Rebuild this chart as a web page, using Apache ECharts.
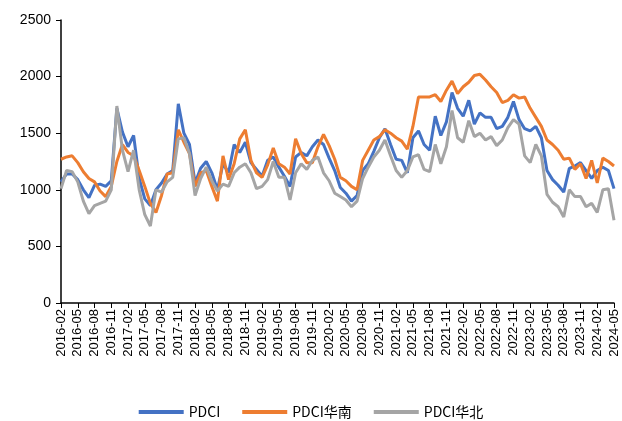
<!DOCTYPE html>
<html><head><meta charset="utf-8">
<script src="https://cdn.jsdelivr.net/npm/echarts@6/dist/echarts.min.js"></script>
<style>html,body{margin:0;padding:0;background:#fff}#c{width:622px;height:421px}</style>
</head><body><div id="c"></div>
<script>
// Monthly categories 2016-02 .. 2024-05
const months = [];
for (let y = 2016, m = 2; y < 2024 || (y === 2024 && m <= 5); ) {
  months.push(y + '-' + String(m).padStart(2, '0'));
  m++; if (m > 12) { m = 1; y++; }
}
const yTicks = [0, 500, 1000, 1500, 2000, 2500];
const seriesNames = ['PDCI', 'PDCI华南', 'PDCI华北'];

const pdci = [
1070,1140,1140,1090,1000,930,1040,1050,1030,1080,
1720,1510,1380,1480,1100,920,860,1000,1060,1140,
1170,1760,1500,1400,1060,1190,1250,1150,1000,1230,
1150,1400,1330,1420,1240,1180,1120,1260,1290,1200,
1120,1030,1290,1330,1300,1380,1440,1400,1280,1170,
1020,970,900,950,1170,1230,1340,1460,1540,1400,
1270,1260,1150,1460,1520,1400,1350,1650,1480,1600,
1860,1720,1650,1790,1580,1680,1640,1640,1540,1560,
1640,1780,1620,1540,1520,1560,1460,1170,1090,1040,
980,1190,1210,1240,1170,1100,1170,1200,1170,1010
];
const pdciSouth = [
1270,1290,1300,1240,1160,1100,1070,990,940,1030,
1250,1400,1330,1300,1170,1030,880,800,950,1140,
1150,1530,1420,1320,1030,1150,1170,1030,900,1300,
1090,1230,1450,1530,1260,1150,1110,1220,1370,1230,
1200,1140,1450,1320,1240,1240,1380,1490,1390,1270,
1110,1080,1030,1000,1260,1350,1440,1470,1530,1500,
1460,1430,1360,1560,1820,1820,1820,1840,1780,1880,
1960,1850,1910,1950,2010,2020,1970,1910,1860,1770,
1790,1840,1810,1820,1720,1640,1560,1440,1400,1350,
1270,1280,1180,1230,1100,1260,1060,1280,1250,1210
];
const pdciNorth = [
1010,1170,1160,1070,900,790,860,880,900,1000,
1740,1350,1160,1350,1000,780,680,1000,980,1070,
1110,1450,1460,1320,950,1100,1200,1080,990,1050,
1030,1150,1200,1230,1150,1010,1030,1090,1250,1110,
1110,910,1150,1230,1180,1260,1290,1150,1080,970,
940,910,850,900,1100,1200,1290,1350,1440,1300,
1170,1110,1170,1290,1310,1180,1160,1400,1230,1380,
1700,1460,1420,1610,1470,1500,1440,1470,1390,1440,
1550,1620,1580,1300,1240,1400,1300,960,890,850,
760,1000,940,940,850,880,800,1000,1010,730
];
const colors = ['#4472C4', '#ED7D31', '#A5A5A5'];

const chart = echarts.init(document.getElementById('c'), null, {renderer: 'canvas'});
chart.setOption({
  animation: false,
  color: colors,
  grid: {left: 61, right: 8, top: 20, bottom: 118, containLabel: false},
  legend: {
    top: 400, left: 'center', itemWidth: 45, itemHeight: 4, itemGap: 22,
    icon: 'rect',
    textStyle: {fontFamily: 'Noto Sans CJK SC', fontSize: 14, color: '#000'},
    data: seriesNames
  },
  xAxis: {
    type: 'category', data: months, boundaryGap: false,
    axisLine: {lineStyle: {color: '#000', width: 1.5}},
    axisTick: {interval: 2, length: 5, lineStyle: {color: '#000'}},
    axisLabel: {interval: 2, rotate: 90, margin: 6, fontSize: 13, color: '#000', fontFamily: 'Liberation Sans'}
  },
  yAxis: {
    type: 'value', min: yTicks[0], max: yTicks[yTicks.length - 1], interval: 500,
    splitLine: {show: false},
    axisLine: {show: true, lineStyle: {color: '#000', width: 1.5}},
    axisTick: {show: true, length: 5, lineStyle: {color: '#000'}},
    axisLabel: {fontSize: 14, color: '#000', margin: 10, fontFamily: 'Liberation Sans', formatter: v => String(v)}
  },
  series: [
    {name: seriesNames[0], type: 'line', data: pdci, showSymbol: false, lineStyle: {width: 3}, z: 2},
    {name: seriesNames[1], type: 'line', data: pdciSouth, showSymbol: false, lineStyle: {width: 3}, z: 3},
    {name: seriesNames[2], type: 'line', data: pdciNorth, showSymbol: false, lineStyle: {width: 3}, z: 4}
  ]
});
</script></body></html>
